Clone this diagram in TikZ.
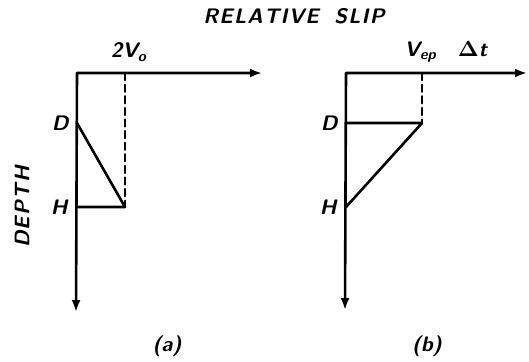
\documentclass[tikz,border=0pt]{standalone}
\usetikzlibrary{arrows.meta, positioning}
\newcommand{\ls}{\kern0.6pt}
\tikzset{
  axisline/.style={line width=1.3pt, {Latex[length=6pt,width=4.5pt]}-{Latex[length=6pt,width=4.5pt]}},
  slipline/.style={line width=1.3pt},
  guideline/.style={line width=1.1pt, dash pattern=on 3.6pt off 2.2pt},
  lbl/.style={font=\fontsize{10.5}{12}\selectfont\sffamily\bfseries\itshape, inner sep=1pt},
}
\begin{document}
\begin{tikzpicture}[x=0.5pt, y=-0.5pt, line cap=round, line join=round]
  \useasboundingbox (0,0) rectangle (529,361);

  % Titulos comunes
  \node[lbl] (Title) at (294,16)
    {R\ls E\ls L\ls A\ls T\ls I\ls V\ls E\ \ S\ls L\ls I\ls P};
  \node[lbl, rotate=90] (Depth) at (22,207)
    {D\ls E\ls P\ls T\ls H};

  % Panel (a) - izquierda
  \coordinate (Ao) at (77,73);
  \coordinate (Ax) at (262,73);
  \coordinate (Ay) at (76,312);
  \coordinate (AD) at (77,123);
  \coordinate (AH) at (77,207);
  \coordinate (At) at (125,73);
  \coordinate (Ac) at (125,207);
  \draw[axisline] (Ay) -- (Ao) -- (Ax);
  \draw[slipline] (AD) -- (Ac) -- (AH);
  \draw[guideline] (At) -- (Ac);
  \node[lbl, left=3pt of AD] (ADlab) {D};
  \node[lbl, left=3.5pt of AH] (AHlab) {H};
  \node[lbl] (Aval) at (129,52) {2V\textsubscript{o}};
  \node[lbl] (Acap) at (167,346) {(a)};

  % Panel (b) - derecha
  \coordinate (Bo) at (346,73);
  \coordinate (Bx) at (527,73);
  \coordinate (By) at (345,310);
  \coordinate (BD) at (346,123);
  \coordinate (BH) at (346,207);
  \coordinate (Bt) at (422,73);
  \coordinate (Bc) at (422,123);
  \draw[axisline] (By) -- (Bo) -- (Bx);
  \draw[slipline] (BH) -- (Bc) -- (BD);
  \draw[guideline] (Bt) -- (Bc);
  \node[lbl, left=3pt of BD] (BDlab) {D};
  \node[lbl, left=3.5pt of BH] (BHlab) {H};
  \node[lbl] (Bval) at (446,52) {V\textsubscript{ep}\quad$\mathbf{\Delta}$\textit{t}};
  \node[lbl] (Bcap) at (427,346) {(b)};
\end{tikzpicture}
\end{document}
